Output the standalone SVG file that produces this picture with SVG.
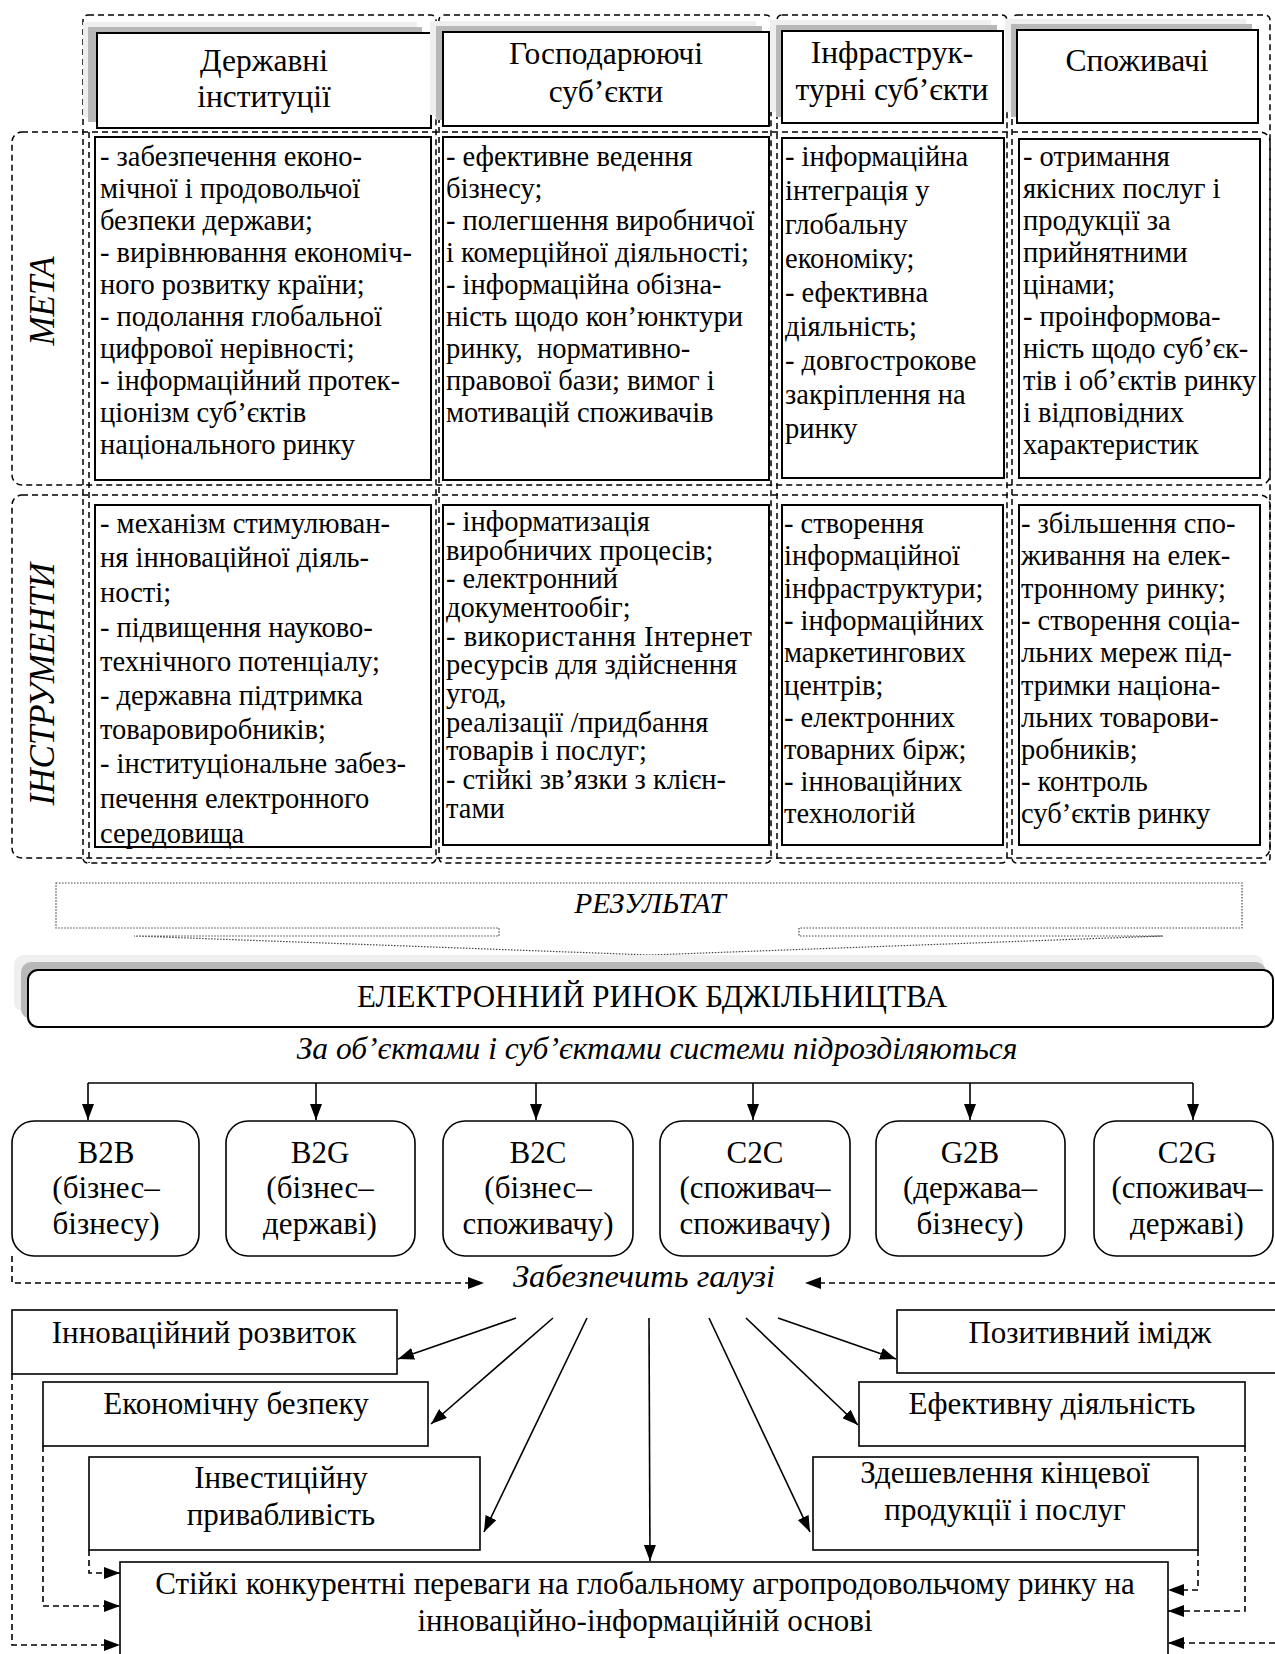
<svg xmlns="http://www.w3.org/2000/svg" width="1275" height="1654" viewBox="0 0 1275 1654">
<style>
text{font-family:"Liberation Serif","Times New Roman",serif;fill:#000}
.hd{font-size:31.5px;text-anchor:middle}
.ct{font-size:28.5px}
.lbl{font-size:35px;font-style:italic;text-anchor:middle}
.it{font-style:italic;text-anchor:middle}
.c30{font-size:31px;text-anchor:middle}
.box{fill:#fff;stroke:#000;stroke-width:2}
.bx{fill:#fff;stroke:#000;stroke-width:1.6}
.dash{fill:none;stroke:#000;stroke-width:1.5;stroke-dasharray:6,4}
.sh1{fill:#efefef}
.sh2{fill:#b8b8b8}
.ln{fill:none;stroke:#000;stroke-width:1.6}
.dl{fill:none;stroke:#000;stroke-width:1.6;stroke-dasharray:6,4}
</style>
<defs>
<marker id="ah" viewBox="0 0 16 12" refX="16" refY="6" markerWidth="16" markerHeight="12" orient="auto" markerUnits="userSpaceOnUse"><path d="M0,0 L16,6 L0,12 z" fill="#000"/></marker>
</defs>

<!-- dashed group frames -->
<g id="frames">
<rect class="dash" x="83" y="15" width="353" height="848" rx="5"/>
<rect class="dash" x="439" y="15" width="332" height="848" rx="5"/>
<rect class="dash" x="777" y="15" width="230" height="848" rx="5"/>
<rect class="dash" x="1012" y="15" width="258" height="848" rx="5"/>
<rect class="dash" x="12" y="132" width="1258" height="353" rx="10"/>
<rect class="dash" x="12" y="495" width="1258" height="363" rx="10"/>
<line class="dash" x1="89" y1="132" x2="89" y2="863"/>
</g>

<g id="label-meta"><text class="lbl" transform="translate(54,301) rotate(-90)">МЕТА</text></g>
<g id="label-instr"><text class="lbl" transform="translate(54,684) rotate(-90)">ІНСТРУМЕНТИ</text></g>

<!-- headers -->
<g id="h1">
<rect class="sh1" x="83" y="22" width="334" height="95"/>
<rect class="sh2" x="88" y="27" width="334" height="95"/>
<rect class="box" x="97" y="33" width="334" height="95"/>
<text class="hd" x="264" y="71">Державні</text>
<text class="hd" x="264" y="107">інституції</text>
</g>
<g id="h2">
<rect class="sh1" x="430" y="21" width="326" height="94"/>
<rect class="sh2" x="436" y="26" width="326" height="94"/>
<rect class="box" x="443" y="32" width="326" height="94"/>
<text class="hd" x="606" y="64">Господарюючі</text>
<text class="hd" x="606" y="102">суб’єкти</text>
</g>
<g id="h3">
<rect class="sh1" x="770" y="20" width="221" height="92"/>
<rect class="sh2" x="776" y="25" width="221" height="92"/>
<rect class="box" x="782" y="31" width="221" height="92"/>
<text class="hd" x="892" y="63">Інфраструк-</text>
<text class="hd" x="892" y="100">турні суб’єкти</text>
</g>
<g id="h4">
<rect class="sh1" x="1005" y="19" width="241" height="93"/>
<rect class="sh2" x="1011" y="24" width="241" height="93"/>
<rect class="box" x="1017" y="30" width="241" height="93"/>
<text class="hd" x="1137" y="71">Споживачі</text>
</g>

<!-- META cells -->
<g id="m1">
<rect class="box" x="95" y="137" width="336" height="343"/>
<text class="ct">
<tspan x="100" y="166">- забезпечення еконо-</tspan>
<tspan x="100" y="198">мічної і продовольчої</tspan>
<tspan x="100" y="230">безпеки держави;</tspan>
<tspan x="100" y="262">- вирівнювання економіч-</tspan>
<tspan x="100" y="294">ного розвитку країни;</tspan>
<tspan x="100" y="326">- подолання глобальної</tspan>
<tspan x="100" y="358">цифрової нерівності;</tspan>
<tspan x="100" y="390">- інформаційний протек-</tspan>
<tspan x="100" y="422">ціонізм суб’єктів</tspan>
<tspan x="100" y="454">національного ринку</tspan>
</text>
</g>
<g id="m2">
<rect class="box" x="443" y="137" width="326" height="343"/>
<text class="ct">
<tspan x="446" y="166">- ефективне ведення</tspan>
<tspan x="446" y="198">бізнесу;</tspan>
<tspan x="446" y="230">- полегшення виробничої</tspan>
<tspan x="446" y="262">і комерційної діяльності;</tspan>
<tspan x="446" y="294">- інформаційна обізна-</tspan>
<tspan x="446" y="326">ність щодо кон’юнктури</tspan>
<tspan x="446" y="358">ринку,&#160; нормативно-</tspan>
<tspan x="446" y="390">правової бази; вимог і</tspan>
<tspan x="446" y="422">мотивацій споживачів</tspan>
</text>
</g>
<g id="m3">
<rect class="box" x="782" y="138" width="222" height="340"/>
<text class="ct">
<tspan x="785" y="166">- інформаційна</tspan>
<tspan x="785" y="200">інтеграція у</tspan>
<tspan x="785" y="234">глобальну</tspan>
<tspan x="785" y="268">економіку;</tspan>
<tspan x="785" y="302">- ефективна</tspan>
<tspan x="785" y="336">діяльність;</tspan>
<tspan x="785" y="370">- довгострокове</tspan>
<tspan x="785" y="404">закріплення на</tspan>
<tspan x="785" y="438">ринку</tspan>
</text>
</g>
<g id="m4">
<rect class="box" x="1019" y="139" width="241" height="339"/>
<text class="ct">
<tspan x="1023" y="166">- отримання</tspan>
<tspan x="1023" y="198">якісних послуг і</tspan>
<tspan x="1023" y="230">продукції за</tspan>
<tspan x="1023" y="262">прийнятними</tspan>
<tspan x="1023" y="294">цінами;</tspan>
<tspan x="1023" y="326">- проінформова-</tspan>
<tspan x="1023" y="358">ність щодо суб’єк-</tspan>
<tspan x="1023" y="390">тів і об’єктів ринку</tspan>
<tspan x="1023" y="422">і відповідних</tspan>
<tspan x="1023" y="454">характеристик</tspan>
</text>
</g>

<!-- INSTRUMENT cells -->
<g id="i1">
<rect class="box" x="95" y="505" width="336" height="342"/>
<text class="ct">
<tspan x="100" y="533">- механізм стимулюван-</tspan>
<tspan x="100" y="567">ня інноваційної діяль-</tspan>
<tspan x="100" y="602">ності;</tspan>
<tspan x="100" y="637">- підвищення науково-</tspan>
<tspan x="100" y="671">технічного потенціалу;</tspan>
<tspan x="100" y="705">- державна підтримка</tspan>
<tspan x="100" y="739">товаровиробників;</tspan>
<tspan x="100" y="773">- інституціональне забез-</tspan>
<tspan x="100" y="808">печення електронного</tspan>
<tspan x="100" y="843">середовища</tspan>
</text>
</g>
<g id="i2">
<rect class="box" x="443" y="505" width="326" height="340"/>
<text class="ct">
<tspan x="446" y="531">- інформатизація</tspan>
<tspan x="446" y="560">виробничих процесів;</tspan>
<tspan x="446" y="588">- електронний</tspan>
<tspan x="446" y="617">документообіг;</tspan>
<tspan x="446" y="646" textLength="306" lengthAdjust="spacing">- використання Інтернет</tspan>
<tspan x="446" y="674">ресурсів для здійснення</tspan>
<tspan x="446" y="703">угод,</tspan>
<tspan x="446" y="732">реалізації /придбання</tspan>
<tspan x="446" y="760">товарів і послуг;</tspan>
<tspan x="446" y="789">- стійкі зв’язки з клієн-</tspan>
<tspan x="446" y="818">тами</tspan>
</text>
</g>
<g id="i3">
<rect class="box" x="782" y="505" width="221" height="340"/>
<text class="ct">
<tspan x="784" y="533">- створення</tspan>
<tspan x="784" y="565">інформаційної</tspan>
<tspan x="784" y="598">інфраструктури;</tspan>
<tspan x="784" y="630">- інформаційних</tspan>
<tspan x="784" y="662">маркетингових</tspan>
<tspan x="784" y="695">центрів;</tspan>
<tspan x="784" y="727">- електронних</tspan>
<tspan x="784" y="759">товарних бірж;</tspan>
<tspan x="784" y="791">- інноваційних</tspan>
<tspan x="784" y="823">технологій</tspan>
</text>
</g>
<g id="i4">
<rect class="box" x="1019" y="505" width="241" height="340"/>
<text class="ct">
<tspan x="1021" y="533">- збільшення спо-</tspan>
<tspan x="1021" y="565">живання на елек-</tspan>
<tspan x="1021" y="598">тронному ринку;</tspan>
<tspan x="1021" y="630">- створення соціа-</tspan>
<tspan x="1021" y="662">льних мереж під-</tspan>
<tspan x="1021" y="695">тримки націона-</tspan>
<tspan x="1021" y="727">льних товарови-</tspan>
<tspan x="1021" y="759">робників;</tspan>
<tspan x="1021" y="791">- контроль</tspan>
<tspan x="1021" y="823">суб’єктів ринку</tspan>
</text>
</g>

<!-- result -->
<g id="result">
<path d="M56,883 H1242 V928 H799 V936 H1163 L650,955 L134,936 H499 V928 H56 Z" fill="#fff" stroke="#444" stroke-width="1.2" stroke-dasharray="1.5,1.5"/>
<text class="it" x="650" y="913" font-size="29.5">РЕЗУЛЬТАТ</text>
</g>

<g id="market">
<rect class="sh1" x="14" y="955" width="1250" height="57" rx="10"/>
<rect class="sh2" x="21" y="962" width="1245" height="57" rx="10"/>
<rect class="box" x="28" y="970" width="1245" height="57" rx="10"/>
<text class="c30" x="652" y="1007" font-size="33">ЕЛЕКТРОННИЙ РИНОК БДЖІЛЬНИЦТВА</text>
</g>
<g id="subtitle"><text class="it" x="657" y="1059" font-size="31.5">За об’єктами і суб’єктами системи підрозділяються</text></g>

<!-- models -->
<g id="b2b"><rect class="bx" x="12" y="1121" width="187" height="135" rx="22"/>
<text class="c30" x="106" y="1163">B2B</text><text class="c30" x="106" y="1198">(бізнес–</text><text class="c30" x="106" y="1234">бізнесу)</text></g>
<g id="b2g"><rect class="bx" x="226" y="1121" width="189" height="135" rx="22"/>
<text class="c30" x="320" y="1163">B2G</text><text class="c30" x="320" y="1198">(бізнес–</text><text class="c30" x="320" y="1234">державі)</text></g>
<g id="b2c"><rect class="bx" x="443" y="1121" width="190" height="135" rx="22"/>
<text class="c30" x="538" y="1163">B2C</text><text class="c30" x="538" y="1198">(бізнес–</text><text class="c30" x="538" y="1234">споживачу)</text></g>
<g id="c2c"><rect class="bx" x="660" y="1121" width="190" height="135" rx="22"/>
<text class="c30" x="755" y="1163">C2C</text><text class="c30" x="755" y="1198">(споживач–</text><text class="c30" x="755" y="1234">споживачу)</text></g>
<g id="g2b"><rect class="bx" x="876" y="1121" width="189" height="135" rx="22"/>
<text class="c30" x="970" y="1163">G2B</text><text class="c30" x="970" y="1198">(держава–</text><text class="c30" x="970" y="1234">бізнесу)</text></g>
<g id="c2g"><rect class="bx" x="1094" y="1121" width="179" height="135" rx="22"/>
<text class="c30" x="1187" y="1163">C2G</text><text class="c30" x="1187" y="1198">(споживач–</text><text class="c30" x="1187" y="1234">державі)</text></g>

<g id="provide"><text class="it" x="644" y="1287" font-size="32.5">Забезпечить галузі</text></g>

<!-- outcome boxes -->
<g id="o1"><rect class="bx" x="12" y="1310" width="385" height="64"/><text class="c30" x="204" y="1343">Інноваційний розвиток</text></g>
<g id="o2"><rect class="bx" x="43" y="1382" width="385" height="64"/><text class="c30" x="236" y="1414">Економічну безпеку</text></g>
<g id="o3"><rect class="bx" x="89" y="1457" width="391" height="93"/><text class="c30" x="281" y="1488">Інвестиційну</text><text class="c30" x="281" y="1525">привабливість</text></g>
<g id="o4"><rect class="bx" x="897" y="1310" width="390" height="63"/><text class="c30" x="1090" y="1343" font-size="32">Позитивний імідж</text></g>
<g id="o5"><rect class="bx" x="859" y="1382" width="386" height="64"/><text class="c30" x="1052" y="1414">Ефективну діяльність</text></g>
<g id="o6"><rect class="bx" x="813" y="1457" width="385" height="93"/><text class="c30" x="1005" y="1483">Здешевлення кінцевої</text><text class="c30" x="1005" y="1520">продукції і послуг</text></g>
<g id="final"><rect class="bx" x="120" y="1562" width="1048" height="110"/><text class="c30" x="645" y="1594" font-size="32.4">Стійкі конкурентні переваги на глобальному агропродовольчому ринку на</text><text class="c30" x="645" y="1631" font-size="32.4">інноваційно-інформаційній основі</text></g>

<!-- connectors -->
<g id="connectors">
<path class="ln" d="M88,1083 H1193"/>
<path class="ln" d="M88,1083 V1120" marker-end="url(#ah)"/>
<path class="ln" d="M316,1083 V1120" marker-end="url(#ah)"/>
<path class="ln" d="M536,1083 V1120" marker-end="url(#ah)"/>
<path class="ln" d="M753,1083 V1120" marker-end="url(#ah)"/>
<path class="ln" d="M970,1083 V1120" marker-end="url(#ah)"/>
<path class="ln" d="M1193,1083 V1120" marker-end="url(#ah)"/>

<path class="dl" d="M12,1256 V1283 H484" marker-end="url(#ah)"/>
<path class="dl" d="M1275,1283 H805" marker-end="url(#ah)"/>

<path class="ln" d="M516,1318 L398,1359" marker-end="url(#ah)"/>
<path class="ln" d="M553,1318 L431,1424" marker-end="url(#ah)"/>
<path class="ln" d="M587,1318 L484,1532" marker-end="url(#ah)"/>
<path class="ln" d="M649,1318 L650,1561" marker-end="url(#ah)"/>
<path class="ln" d="M709,1318 L810,1532" marker-end="url(#ah)"/>
<path class="ln" d="M746,1318 L858,1425" marker-end="url(#ah)"/>
<path class="ln" d="M778,1318 L896,1359" marker-end="url(#ah)"/>

<path class="dl" d="M12,1374 V1645 H120" marker-end="url(#ah)"/>
<path class="dl" d="M43,1446 V1606 H120" marker-end="url(#ah)"/>
<path class="dl" d="M89,1550 V1573 H120" marker-end="url(#ah)"/>
<path class="dl" d="M1198,1550 V1590 H1168" marker-end="url(#ah)"/>
<path class="dl" d="M1245,1446 V1611 H1168" marker-end="url(#ah)"/>
<path class="dl" d="M1275,1643 H1168" marker-end="url(#ah)"/>
</g>
</svg>
